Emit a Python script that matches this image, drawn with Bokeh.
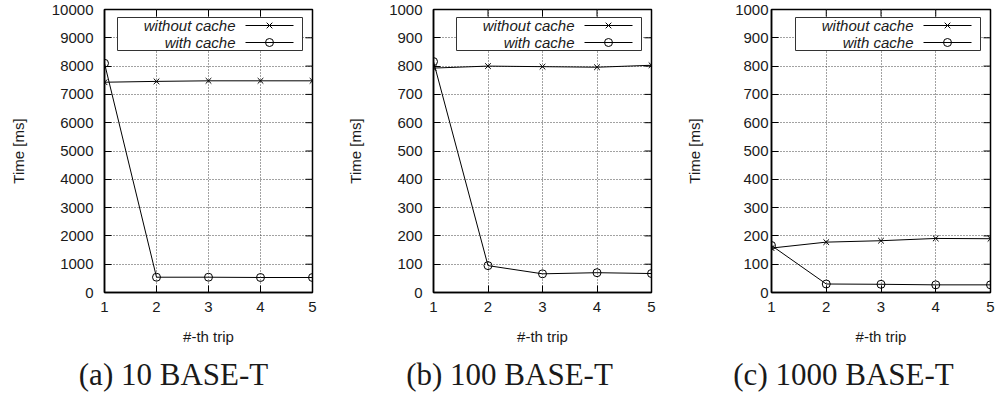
from bokeh.plotting import figure
from bokeh.layouts import column, row
from bokeh.models import Range1d, FixedTicker
from bokeh.core.properties import value
from bokeh.embed import file_html
from bokeh.resources import INLINE

# Round-trip time per trip, measured over three link speeds
trips = [1, 2, 3, 4, 5]

no_cache_10 = [7430, 7460, 7480, 7480, 7480]
cache_10 = [8100, 540, 540, 530, 530]

no_cache_100 = [793, 800, 798, 796, 803]
cache_100 = [816, 95, 66, 70, 67]

no_cache_1000 = [157, 178, 183, 191, 190]
cache_1000 = [166, 30, 29, 27, 27]

x_ticks = [1, 2, 3, 4, 5]
y_ticks_10 = [0, 1000, 2000, 3000, 4000, 5000, 6000, 7000, 8000, 9000, 10000]
y_ticks_100 = [0, 100, 200, 300, 400, 500, 600, 700, 800, 900, 1000]
y_ticks_1000 = [0, 100, 200, 300, 400, 500, 600, 700, 800, 900, 1000]

legend_labels = ["without cache", "with cache"]
captions = ["(a) 10 BASE-T", "(b) 100 BASE-T", "(c) 1000 BASE-T"]

SANS = "Liberation Sans"
SERIF = "Liberation Serif"
INK = "#1a1a1a"
FRAME_H = 283
TICK_LEN = 7


def panel(no_cache, cache, y_ticks, frame_w, border_left, border_right,
          label_gap, title_gap):
    x_min, x_max = x_ticks[0], x_ticks[-1]
    y_max = y_ticks[-1]
    p = figure(frame_width=frame_w, frame_height=FRAME_H,
               min_border_left=border_left, min_border_right=border_right,
               min_border_top=9, min_border_bottom=58,
               x_range=Range1d(x_min, x_max), y_range=Range1d(0, y_max),
               x_axis_label="#-th trip", y_axis_label="Time [ms]",
               output_backend="svg", toolbar_location=None)
    p.background_fill_color = "white"
    p.border_fill_color = "white"
    p.outline_line_color = "black"
    p.outline_line_width = 1.5

    xa = p.below[0]
    ya = p.left[0]
    xa.ticker = FixedTicker(ticks=x_ticks)
    ya.ticker = FixedTicker(ticks=y_ticks)
    for ax in (xa, ya):
        ax.axis_line_color = "black"
        ax.axis_line_width = 1.5
        ax.major_tick_line_color = "black"
        ax.major_tick_in = TICK_LEN
        ax.major_tick_out = 0
        ax.minor_tick_line_color = None
        ax.major_label_text_font = SANS
        ax.major_label_text_font_size = "15px"
        ax.major_label_text_color = INK
        ax.axis_label_text_font = SANS
        ax.axis_label_text_font_size = "15px"
        ax.axis_label_text_font_style = "normal"
        ax.axis_label_text_color = INK
    xa.major_label_standoff = 9
    xa.axis_label_standoff = 13
    ya.major_label_standoff = label_gap
    ya.axis_label_standoff = title_gap

    p.xgrid.ticker = FixedTicker(ticks=x_ticks)
    p.ygrid.ticker = FixedTicker(ticks=y_ticks)
    for g in (p.xgrid, p.ygrid):
        g.grid_line_color = "#444444"
        g.grid_line_dash = "1 2"
        g.grid_line_width = 1

    # mirrored tick marks along the top and right edges
    dy = y_max * TICK_LEN / FRAME_H
    dx = (x_max - x_min) * TICK_LEN / frame_w
    p.segment(x0=x_ticks, x1=x_ticks, y0=[y_max] * len(x_ticks),
              y1=[y_max - dy] * len(x_ticks), line_color="black", line_width=1)
    p.segment(x0=[x_max] * len(y_ticks), x1=[x_max - dx] * len(y_ticks),
              y0=y_ticks, y1=y_ticks, line_color="black", line_width=1)

    # data series
    p.line(trips, no_cache, line_color="black", line_width=1)
    p.scatter(trips, no_cache, marker="x", size=8, line_color="black", line_width=1)
    p.line(trips, cache, line_color="black", line_width=1)
    p.scatter(trips, cache, marker="circle", size=8, line_color="black",
              fill_color=None, line_width=1)

    # key box, laid out in frame pixels from the top-right corner
    p.extra_x_ranges = {"px": Range1d(0, frame_w)}
    p.extra_y_ranges = {"py": Range1d(0, FRAME_H)}
    R, T = frame_w, FRAME_H
    p.quad(left=[R - 195], right=[R - 10], top=[T - 8], bottom=[T - 41],
           x_range_name="px", y_range_name="py",
           fill_color="white", line_color="#333333", line_width=1)
    rows_y = [T - 16, T - 33]
    p.text(x=[R - 77, R - 77], y=rows_y, text=legend_labels,
           x_range_name="px", y_range_name="py",
           text_align="right", text_baseline="middle",
           text_font=value(SANS), text_font_size="15px",
           text_font_style="italic", text_color=INK)
    p.segment(x0=[R - 67, R - 67], x1=[R - 19, R - 19], y0=rows_y, y1=rows_y,
              x_range_name="px", y_range_name="py",
              line_color="black", line_width=1)
    p.scatter(x=[R - 43], y=[rows_y[0]], marker="x", size=8,
              x_range_name="px", y_range_name="py", line_color="black")
    p.scatter(x=[R - 43], y=[rows_y[1]], marker="circle", size=8,
              x_range_name="px", y_range_name="py",
              line_color="black", fill_color=None)
    return p


pa = panel(no_cache_10, cache_10, y_ticks_10, 208, 104, 21, 11, 22)
pb = panel(no_cache_100, cache_100, y_ticks_100, 218, 100, 16, 11, 22)
pc = panel(no_cache_1000, cache_1000, y_ticks_1000, 219, 104, 11, 3, 29)

cap = figure(width=1001, height=46, x_range=Range1d(0, 1001), y_range=Range1d(0, 46),
             x_axis_location=None, y_axis_location=None, min_border=0,
             output_backend="svg", toolbar_location=None)
cap.grid.visible = False
cap.outline_line_color = None
cap.background_fill_color = "white"
cap.border_fill_color = "white"
cap.text(x=[173, 509, 843], y=[22, 22, 22], text=captions,
         text_align="center", text_baseline="middle",
         text_font=value(SERIF), text_font_size="31px", text_color=INK)

layout = column(row(pa, pb, pc, spacing=0), cap, spacing=0)

with open("out.html", "w") as f:
    f.write(file_html(layout, INLINE))
